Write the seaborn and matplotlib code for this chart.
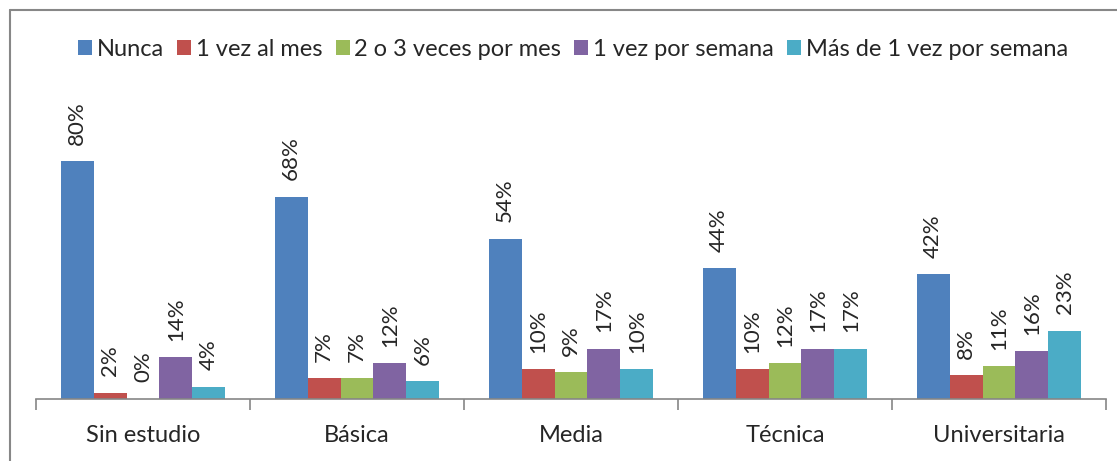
import pandas as pd
import matplotlib.pyplot as plt
import seaborn as sns
from matplotlib.lines import Line2D

# ================== DATOS ==================
niveles = ["Sin estudio", "Básica", "Media", "Técnica", "Universitaria"]
frecuencias = ["Nunca", "1 vez al mes", "2 o 3 veces por mes", "1 vez por semana", "Más de 1 vez por semana"]
nunca = [80, 68, 54, 44, 42]
una_mes = [2, 7, 10, 10, 8]
dos_tres_mes = [0, 7, 9, 12, 11]
una_semana = [14, 12, 17, 17, 16]
mas_semana = [4, 6, 10, 17, 23]
colores = ["#4F81BD", "#C0504D", "#9BBB59", "#8064A2", "#4BACC6"]

series = [nunca, una_mes, dos_tres_mes, una_semana, mas_semana]
df = pd.DataFrame([(n, f, v[i]) for f, v in zip(frecuencias, series) for i, n in enumerate(niveles)],
                  columns=["nivel", "frecuencia", "valor"])

# ================== CONFIG ==================
sns.set_style("white")
plt.rcParams["font.family"] = ["Lato", "DejaVu Sans"]

fig = plt.figure(figsize=(11.17, 4.61), dpi=100)
W, H = 1117, 461
ax = fig.add_axes([36 / W, (H - 399) / H, (1106 - 36) / W, (399 - 102) / H])

sns.barplot(data=df, x="nivel", y="valor", hue="frecuencia", order=niveles, hue_order=frecuencias,
            palette=colores, saturation=1, width=0.77, linewidth=0, ax=ax)

for cont in ax.containers:
    ax.bar_label(cont, labels=[f"{v:.0f}%" for v in cont.datavalues], rotation=90,
                 padding=12, fontsize=16)

ax.set_ylim(0, 100)
ax.set_xlim(-0.5, len(niveles) - 0.5)
ax.set_xlabel("")
ax.set_ylabel("")
ax.set_yticks([])
for s in ["top", "right", "left"]:
    ax.spines[s].set_visible(False)
ax.spines["bottom"].set_color("#868686")
ax.spines["bottom"].set_linewidth(1.2)

# ticks en los límites de categoría, etiquetas centradas
ax.set_xticks([i - 0.5 for i in range(len(niveles) + 1)])
ax.set_xticklabels([])
ax.set_xticks(range(len(niveles)), minor=True)
ax.set_xticklabels(niveles, minor=True, fontsize=17)
ax.tick_params(axis="x", which="major", length=8, width=1.2, color="#868686", direction="out", bottom=True)
ax.tick_params(axis="x", which="minor", length=0, pad=19)

handles, labels = ax.get_legend_handles_labels()
ax.legend_.remove()
fig.legend(handles, labels, loc="center", bbox_to_anchor=(0.513, (H - 49) / H), ncol=5, frameon=False,
           fontsize=17, handlelength=0.6, handleheight=0.6, handletextpad=0.2, columnspacing=0.55)

# marco del gráfico
fig.add_artist(Line2D([10 / W, 1], [(H - 10) / H] * 2, color="#878787", lw=1.5))
fig.add_artist(Line2D([10 / W] * 2, [0, (H - 10) / H], color="#878787", lw=1.5))

fig.savefig("out.png", dpi=100)
